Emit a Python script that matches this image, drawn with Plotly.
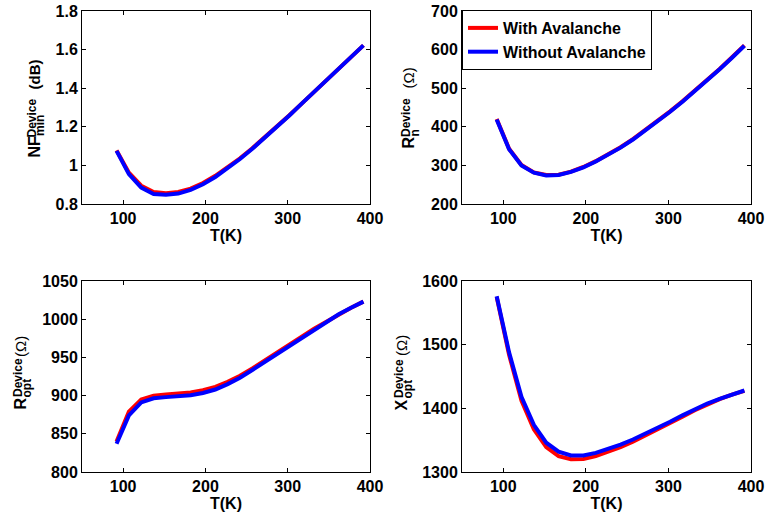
import plotly.graph_objects as go

# Temperature sweep (K)
T = [92, 107, 122, 137, 152, 167, 182, 197, 212, 227, 242,
     257, 272, 287, 302, 317, 332, 347, 362, 377, 392]

# Minimum noise figure of the device (dB)
nf_with = [1.078, 0.962, 0.895, 0.862, 0.856, 0.862, 0.880, 0.909, 0.946, 0.989, 1.037,
           1.089, 1.144, 1.201, 1.260, 1.320, 1.381, 1.442, 1.502, 1.562, 1.622]
nf_without = [1.075, 0.955, 0.885, 0.852, 0.848, 0.854, 0.873, 0.902, 0.940, 0.984, 1.033,
              1.086, 1.142, 1.200, 1.259, 1.320, 1.381, 1.442, 1.502, 1.562, 1.622]

# Noise resistance (Ohm)
rn_with = [420, 343, 301, 282, 275, 276, 284, 296, 311, 328, 347,
           368, 391, 415, 440, 466, 493, 521, 550, 580, 611]
rn_without = [419, 342, 300, 281, 274, 275, 283, 295, 310, 327, 346,
              367, 390, 414, 439, 465, 492, 520, 549, 579, 610]

# Optimum source resistance (Ohm)
ropt_with = [840, 879, 895, 900, 901.5, 902.5, 904, 907, 911.5, 918, 926,
             935.5, 945.5, 956, 966.5, 977, 987.5, 997, 1006.5, 1015, 1023]
ropt_without = [837, 874, 891, 896.5, 898, 899, 900.5, 903.5, 908, 915, 923.5,
                933.5, 944, 954.5, 965.5, 976.5, 987, 997, 1006.5, 1015, 1023]

# Optimum source reactance (Ohm)
xopt_with = [1575, 1484, 1412, 1367, 1339, 1325, 1320, 1320.5, 1325, 1331.5, 1339,
             1347.5, 1357, 1366.5, 1376.5, 1387, 1397, 1406.5, 1414.5, 1421.5, 1427.5]
xopt_without = [1576, 1488, 1418, 1374, 1346, 1332, 1326, 1326, 1330, 1336, 1343,
                1351, 1360, 1369.5, 1379, 1389, 1398.5, 1407.5, 1415, 1422, 1428]

series_names = ["With Avalanche", "Without Avalanche"]
colors = ["#ff0000", "#0000ff"]

W, H = 765, 517
FONT = "Liberation Sans, Arial, sans-serif"


def px(x):
    return x / W


def py(y):
    return 1 - y / H


# Panel boxes in pixels: (left, right, top, bottom)
boxes = [(82, 370, 11, 204), (462, 751, 11, 204),
         (82, 370, 281, 472), (462, 751, 281, 472)]
yranges = [(0.8, 1.8, 0.2), (200, 700, 100), (800, 1050, 50), (1300, 1600, 100)]
data = [(nf_with, nf_without), (rn_with, rn_without),
        (ropt_with, ropt_without), (xopt_with, xopt_without)]

fig = go.Figure()

for i, ((l, r, t, b), (y0, y1, dy), (yw, ywo)) in enumerate(zip(boxes, yranges, data)):
    sfx = "" if i == 0 else str(i + 1)
    for vals, name, col in zip((yw, ywo), series_names, colors):
        fig.add_trace(go.Scatter(
            x=T, y=vals, mode="lines", name=name,
            line=dict(color=col, width=4),
            xaxis="x" + sfx, yaxis="y" + sfx,
            showlegend=(i == 1),
        ))
    axis_common = dict(
        showline=True, linecolor="black", linewidth=1, mirror="ticks",
        ticks="inside", ticklen=4, tickcolor="black", showgrid=False,
        zeroline=False, automargin=False,
        tickfont=dict(family=FONT, size=16, color="black", weight="bold"),
    )
    fig.layout["xaxis" + sfx] = dict(
        domain=[px(l), px(r)], anchor="y" + sfx, range=[50, 400],
        tick0=0, dtick=100,
        title=dict(text="T(K)", standoff=2,
                   font=dict(family=FONT, size=16, color="black", weight="bold")),
        **axis_common,
    )
    fig.layout["yaxis" + sfx] = dict(
        domain=[py(b), py(t)], anchor="x" + sfx, range=[y0, y1],
        tick0=y0, dtick=dy,
        **axis_common,
    )

# Stacked super/subscript axis labels, drawn as rotated text pieces.
# Each entry: base, superscript, subscript, unit, x-centre of base,
# and the vertical centres of base, superscript, subscript and unit.
labels = [
    ("NF", "Device", "min", "(dB)", 33.5, 147, 118, 126, 75),
    ("R", "Device", "n", "(\u03a9)", 408, 142.5, 118, 133, 78.5),
    ("R", "Device", "opt", "(\u03a9)", 20, 403.5, 378, 388, 347),
    ("X", "Device", "opt", "(\u03a9)", 401, 405.5, 379, 389, 346),
]
ann = []
for base, sup, sub, unit, xc, yb, ysup, ysub, yu in labels:
    pieces = [
        (base, xc, yb, 16, "bold"),
        (sup, xc - 2, ysup, 12, "bold"),
        (sub, xc + 6.5, ysub, 12, "bold"),
        (unit, xc, yu, 15, "bold" if unit == "(dB)" else "normal"),
    ]
    for txt, x, y, sz, wt in pieces:
        ann.append(dict(
            text=txt, x=px(x), y=py(y), xref="paper", yref="paper",
            xanchor="center", yanchor="middle", textangle=-90,
            showarrow=False, borderpad=0,
            font=dict(family=FONT, size=sz, color="black", weight=wt),
        ))

fig.update_layout(
    width=W, height=H,
    margin=dict(l=0, r=0, t=0, b=0, autoexpand=False),
    paper_bgcolor="white", plot_bgcolor="white",
    annotations=ann,
    showlegend=True,
    legend=dict(
        x=px(462), y=py(10), xanchor="left", yanchor="top",
        bgcolor="white", bordercolor="black", borderwidth=1,
        font=dict(family=FONT, size=16, color="black", weight="bold"),
        tracegroupgap=0, itemwidth=30,
    ),
)

fig.write_html("out.html")
